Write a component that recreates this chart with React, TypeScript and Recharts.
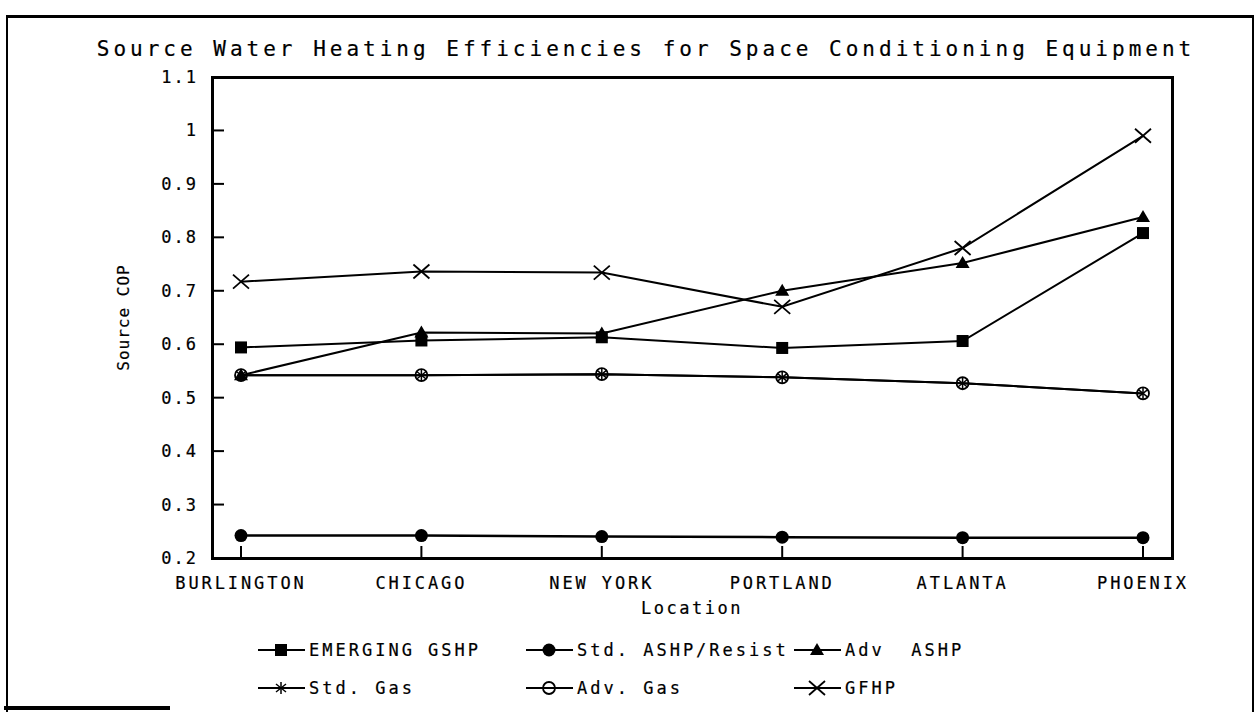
import React from 'react';
import { LineChart, Line, XAxis, YAxis } from 'recharts';

const locations = ['BURLINGTON', 'CHICAGO', 'NEW YORK', 'PORTLAND', 'ATLANTA', 'PHOENIX'];
const emergingGshp = [0.594, 0.607, 0.613, 0.593, 0.606, 0.808];
const stdAshpResist = [0.242, 0.242, 0.24, 0.239, 0.238, 0.238];
const advAshp = [0.542, 0.622, 0.62, 0.7, 0.752, 0.838];
const stdGas = [0.542, 0.542, 0.544, 0.538, 0.527, 0.508];
const advGas = [0.542, 0.542, 0.544, 0.538, 0.527, 0.508];
const gfhp = [0.717, 0.736, 0.734, 0.67, 0.78, 0.99];
const yTicks = [0.2, 0.3, 0.4, 0.5, 0.6, 0.7, 0.8, 0.9, 1, 1.1];

const data = locations.map((name, i) => ({
  name,
  emergingGshp: emergingGshp[i],
  stdAshpResist: stdAshpResist[i],
  advAshp: advAshp[i],
  stdGas: stdGas[i],
  advGas: advGas[i],
  gfhp: gfhp[i],
}));

const FONT = '"DejaVu Sans Mono", monospace';
const W = 1260;
const H = 713;
// plot box
const PL = 212;
const PR = 1172;
const PT = 77;
const PB = 558;

// text drawn a touch heavier, like the plotter font in the scan
const ink = { fill: '#000', stroke: '#000', strokeWidth: 0.2, fontFamily: FONT };

type Shape = 'square' | 'dot' | 'triangle' | 'star' | 'ring' | 'cross';

const Marker = ({ shape, cx, cy }: { shape: Shape; cx: number; cy: number }) => {
  switch (shape) {
    case 'square':
      return <rect x={cx - 6} y={cy - 6} width={12} height={12} fill="#000" />;
    case 'dot':
      return <circle cx={cx} cy={cy} r={6.5} fill="#000" />;
    case 'triangle':
      return <polygon points={`${cx},${cy - 7} ${cx - 7},${cy + 5} ${cx + 7},${cy + 5}`} fill="#000" />;
    case 'star':
      return (
        <g stroke="#000" strokeWidth={1.5}>
          <line x1={cx} y1={cy - 6} x2={cx} y2={cy + 6} />
          <line x1={cx - 5} y1={cy - 4} x2={cx + 5} y2={cy + 4} />
          <line x1={cx - 5} y1={cy + 4} x2={cx + 5} y2={cy - 4} />
        </g>
      );
    case 'ring':
      return <circle cx={cx} cy={cy} r={6} fill="none" stroke="#000" strokeWidth={1.8} />;
    case 'cross':
      return (
        <g stroke="#000" strokeWidth={1.8}>
          <line x1={cx - 8} y1={cy - 7} x2={cx + 8} y2={cy + 7} />
          <line x1={cx - 8} y1={cy + 7} x2={cx + 8} y2={cy - 7} />
        </g>
      );
  }
  return null;
};

const series: { key: string; label: string; shape: Shape; width: number }[] = [
  { key: 'stdAshpResist', label: 'Std. ASHP/Resist', shape: 'dot', width: 2.5 },
  { key: 'stdGas', label: 'Std. Gas', shape: 'star', width: 2 },
  { key: 'advGas', label: 'Adv. Gas', shape: 'ring', width: 2 },
  { key: 'emergingGshp', label: 'EMERGING GSHP', shape: 'square', width: 2 },
  { key: 'advAshp', label: 'Adv  ASHP', shape: 'triangle', width: 2 },
  { key: 'gfhp', label: 'GFHP', shape: 'cross', width: 2 },
];

// legend grid: [key, column, row]
const legendSlots: [string, number, number][] = [
  ['emergingGshp', 0, 0],
  ['stdAshpResist', 1, 0],
  ['advAshp', 2, 0],
  ['stdGas', 0, 1],
  ['advGas', 1, 1],
  ['gfhp', 2, 1],
];
const legendCols = [258, 526, 794];
const legendRows = [650, 688];

const YTick = (props: any) => {
  const { x, y, payload } = props;
  return (
    <g>
      <line x1={x} x2={x + 12} y1={y} y2={y} stroke="#000" strokeWidth={2} />
      <text x={x - 14} y={y} dy={6} textAnchor="end" fontSize={17} letterSpacing={2} {...ink}>
        {String(payload.value)}
      </text>
    </g>
  );
};

const XTick = (props: any) => {
  const { x, y, payload } = props;
  return (
    <g>
      <line x1={x} x2={x} y1={y} y2={y - 12} stroke="#000" strokeWidth={2} />
      <text x={x} y={y + 31} textAnchor="middle" fontSize={17} letterSpacing={2.9} {...ink}>
        {payload.value}
      </text>
    </g>
  );
};

export default function App() {
  return (
    <div style={{ position: 'absolute', left: 0, top: 0, width: W, height: H, background: '#fff' }}>
      {/* scanned frame */}
      <div style={{ position: 'absolute', left: 6, top: 15, width: 1248, height: 697, borderTop: '3px solid #000', borderLeft: '2px solid #000', borderRight: '2px solid #000', boxSizing: 'border-box' }} />
      <div style={{ position: 'absolute', left: 4, top: 706, width: 166, height: 4, background: '#000' }} />

      <LineChart
        width={W}
        height={H}
        data={data}
        margin={{ top: PT, right: W - PR, bottom: H - PB - 40, left: PL - 60 }}
        style={{ position: 'absolute', left: 0, top: 0 }}
      >
        <XAxis
          dataKey="name"
          height={40}
          padding={{ left: 29, right: 29 }}
          axisLine={false}
          tickLine={false}
          tickSize={0}
          tickMargin={0}
          interval={0}
          tick={<XTick />}
        />
        <YAxis
          width={60}
          type="number"
          domain={[0.2, 1.1]}
          ticks={yTicks}
          axisLine={false}
          tickLine={false}
          tickSize={0}
          tickMargin={0}
          interval={0}
          tick={<YTick />}
        />
        {series.map(s => (
          <Line
            key={s.key}
            dataKey={s.key}
            name={s.label}
            type="linear"
            stroke="#000"
            strokeWidth={s.width}
            isAnimationActive={false}
            dot={(p: any) => <Marker key={`${s.key}-${p.index}`} shape={s.shape} cx={p.cx} cy={p.cy} />}
            activeDot={false}
          />
        ))}
      </LineChart>

      {/* plot box */}
      <div style={{ position: 'absolute', left: PL - 1, top: PT - 1, width: PR - PL + 3, height: PB - PT + 3, border: '3px solid #000', boxSizing: 'border-box', pointerEvents: 'none' }} />

      <svg width={W} height={H} style={{ position: 'absolute', left: 0, top: 0, pointerEvents: 'none' }}>
        <text x={646} y={56} textAnchor="middle" fontSize={21} letterSpacing={4} {...ink}>
          Source Water Heating Efficiencies for Space Conditioning Equipment
        </text>
        <text x={(PL + PR) / 2} y={614} textAnchor="middle" fontSize={17} letterSpacing={2.5} {...ink}>
          Location
        </text>
        <text
          x={0}
          y={0}
          transform={`translate(129, ${(PT + PB) / 2}) rotate(-90)`}
          textAnchor="middle"
          fontSize={16}
          letterSpacing={1}
          {...ink}
        >
          Source COP
        </text>
        {legendSlots.map(([key, col, row]) => {
          const s = series.find(v => v.key === key)!;
          const x0 = legendCols[col];
          const y = legendRows[row];
          return (
            <g key={key}>
              <line x1={x0} x2={x0 + 47} y1={y} y2={y} stroke="#000" strokeWidth={2} />
              <Marker shape={s.shape} cx={x0 + 23} cy={y} />
              <text x={x0 + 51} y={y} dy={6} fontSize={17} letterSpacing={3} style={{ whiteSpace: 'pre' }} {...ink}>
                {s.label}
              </text>
            </g>
          );
        })}
      </svg>
    </div>
  );
}
